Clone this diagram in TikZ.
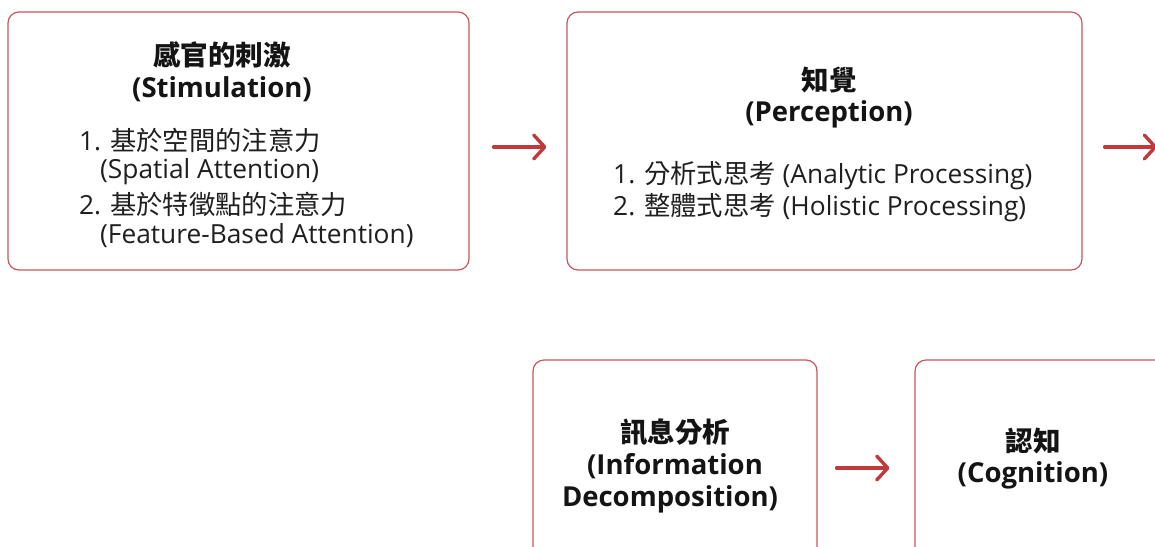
\documentclass[tikz,border=0pt]{standalone}
\usepackage{fontspec}
\setmainfont{Open Sans}
\newfontfamily\cjk{Noto Sans CJK TC}
\usetikzlibrary{arrows.meta}
\definecolor{boxred}{HTML}{C9565A}
\definecolor{arrred}{HTML}{C0393B}
\tikzset{
  stage/.style={draw=boxred, line width=1.2pt, rounded corners=11pt, fill=white, inner sep=0pt},
  title/.style={font=\fontsize{27.5}{34}\selectfont\bfseries, align=center, inner sep=0pt, text=black!92},
  item/.style={font=\fontsize{26.3}{32}\selectfont, align=left, inner sep=0pt, anchor=west, text=black!88},
  flow/.style={draw=arrred, line width=3.4pt, line cap=round, -{Straight Barb[length=11pt,width=24pt,line cap=round,line join=round]}},
}
\begin{document}
\begin{tikzpicture}[x=1pt,y=-1pt]
\useasboundingbox (0,0) rectangle (1155,546);
\clip (0,0) rectangle (1155,546);
% boxes
\node[stage, minimum width=461pt, minimum height=258pt] (stim) at (238.5,141) {};
\node[stage, minimum width=515pt, minimum height=258pt] (perc) at (824.5,141) {};
\node[stage, minimum width=284pt, minimum height=210pt] (info) at (675,465) {};
\node[stage, minimum width=260pt, minimum height=210pt] (cogn) at (1045,465) {};
\coordinate (next) at (1157,147);
% box 1 text
\node[title] (t1a) at (222,55) {\cjk 感官的刺激};
\node[title] (t1b) at (222,89) {(Stimulation)};
\node[item] (i1a) at (79,140) {1. {\cjk 基於空間的注意力}};
\node[item] (i1b) at (100,172) {(Spatial Attention)};
\node[item] (i1c) at (79,204) {2. {\cjk 基於特徵點的注意力}};
\node[item] (i1d) at (100,236) {(Feature-Based Attention)};
% box 2 text
\node[title] (t2a) at (829,80) {\cjk 知覺};
\node[title] (t2b) at (829,114) {(Perception)};
\node[item] (i2a) at (613,176) {1. {\cjk 分析式思考} (Analytic Processing)};
\node[item] (i2b) at (613,208) {2. {\cjk 整體式思考} (Holistic Processing)};
% box 3 text
\node[title] (t3a) at (675,432) {\cjk 訊息分析};
\node[title] (t3b) at (675,466) {(Information};
\node[title] (t3c) at (670,499) {Decomposition)};
% box 4 text
\node[title] (t4a) at (1033,441) {\cjk 認知};
\node[title] (t4b) at (1033,475) {(Cognition)};
% arrows
\draw[flow, shorten <=24pt, shorten >=20pt] ([yshift=-6pt]stim.east) -- ([yshift=-6pt]perc.west);
\draw[flow, shorten <=22pt] ([yshift=-6pt]perc.east) -- (next);
\draw[flow, shorten <=19pt, shorten >=25pt] ([yshift=-3pt]info.east) -- ([yshift=-3pt]cogn.west);
\end{tikzpicture}
\end{document}
